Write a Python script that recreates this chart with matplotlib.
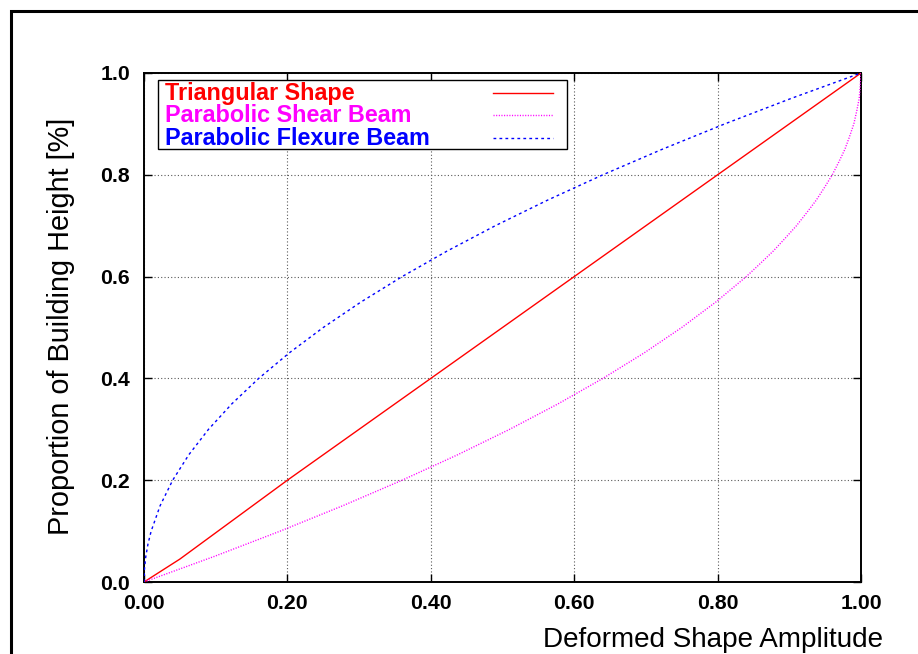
import matplotlib
matplotlib.use("Agg")
import matplotlib.pyplot as plt
from matplotlib.lines import Line2D
from matplotlib.patches import Rectangle

plt.rcParams['font.family'] = ['Liberation Sans', 'DejaVu Sans']

# ---------------- data ----------------
series_names = ["Triangular Shape", "Parabolic Shear Beam", "Parabolic Flexure Beam"]
series_colors = ["#ff0000", "#ff00ff", "#0000ff"]

tri_amp = [0.0, 0.05, 0.20, 0.40, 0.60, 0.80, 1.00]
tri_height = [0.0, 0.045, 0.20, 0.40, 0.60, 0.80, 1.00]

shear_height = [0.0, 0.05, 0.10, 0.15, 0.20, 0.25, 0.30, 0.35, 0.40, 0.45, 0.50,
                0.55, 0.60, 0.625, 0.65, 0.675, 0.70, 0.725, 0.75, 0.775, 0.80,
                0.825, 0.85, 0.875, 0.90, 0.925, 0.95, 0.975, 1.00]
shear_amp = [0.0, 0.0975, 0.19, 0.2775, 0.36, 0.4375, 0.51, 0.5775, 0.64, 0.6975, 0.75,
             0.7975, 0.84, 0.859, 0.8775, 0.894, 0.91, 0.924, 0.9375, 0.949, 0.96,
             0.969, 0.9775, 0.984, 0.99, 0.994, 0.9975, 0.999, 1.00]

flex_height = [0.0, 0.025, 0.05, 0.075, 0.10, 0.15, 0.20, 0.25, 0.30, 0.35, 0.40,
               0.45, 0.50, 0.55, 0.60, 0.65, 0.70, 0.75, 0.80, 0.85, 0.90, 0.95, 1.00]
flex_amp = [0.0, 0.0006, 0.0025, 0.0056, 0.01, 0.0225, 0.04, 0.0625, 0.09, 0.1225, 0.16,
            0.2025, 0.25, 0.3025, 0.36, 0.4225, 0.49, 0.5625, 0.64, 0.7225, 0.81, 0.9025, 1.00]

x_ticks = [0.0, 0.2, 0.4, 0.6, 0.8, 1.0]
x_tick_labels = ["0.00", "0.20", "0.40", "0.60", "0.80", "1.00"]
y_ticks = [0.0, 0.2, 0.4, 0.6, 0.8, 1.0]
y_tick_labels = ["0.0", "0.2", "0.4", "0.6", "0.8", "1.0"]

x_label = "Deformed Shape Amplitude"
y_label = "Proportion of Building Height [%]"

# ---------------- figure ----------------
W, H = 918, 654
fig = plt.figure(figsize=(W / 100, H / 100), dpi=100)
L, R, T, B = 144, 861, 73, 582
ax = fig.add_axes([L / W, 1 - B / H, (R - L) / W, (B - T) / H])

styles = [
    dict(linestyle='-', linewidth=1.0),
    dict(linestyle=(0, (0.8, 1.1)), linewidth=1.0),
    dict(linestyle=(0, (2.0, 2.3)), linewidth=1.0),
]
data = [(tri_amp, tri_height), (shear_amp, shear_height), (flex_amp, flex_height)]
for (xs, ys), c, st in zip(data, series_colors, styles):
    ax.plot(xs, ys, color=c, zorder=3, **st)

ax.set_xlim(0, 1)
ax.set_ylim(0, 1)
ax.set_xticks(x_ticks)
ax.set_xticklabels(x_tick_labels)
ax.set_yticks(y_ticks)
ax.set_yticklabels(y_tick_labels)
ax.tick_params(direction='in', length=6, width=1.0, top=True, right=True,
               labelsize=15.3)
ax.tick_params(axis='x', pad=8.5)
ax.tick_params(axis='y', pad=10)
for lab in ax.get_xticklabels() + ax.get_yticklabels():
    lab.set_fontweight('bold')
for sp in ax.spines.values():
    sp.set_linewidth(1.4)
ax.grid(True, color='0.35', linestyle=(0, (1, 2)), linewidth=0.8, zorder=1)
ax.set_axisbelow(True)

# legend (manual, gnuplot-style: text left, sample on the right)
ax.add_patch(Rectangle((0.020, 0.850), 0.5695, 0.136, transform=ax.transAxes,
                       facecolor='white', edgecolor='black', linewidth=1.0,
                       zorder=4))
row_y = [0.960, 0.917, 0.872]
for name, c, st, yy in zip(series_names, series_colors, styles, row_y):
    ax.text(0.0293, yy, name, transform=ax.transAxes, color=c, fontsize=16.8,
            fontweight='bold', ha='left', va='center', zorder=5)
    ax.add_line(Line2D([0.487, 0.570], [yy, yy], transform=ax.transAxes,
                       color=c, zorder=5, **st))

# axis labels
fig.text(883 / W, 1 - 647 / H, x_label, ha='right', va='baseline', fontsize=20.1)
fig.text(61 / W, 1 - 326 / H, y_label, ha='center', va='center', rotation=90,
         fontsize=20.8)

# outer frame (left and top edges)
fig.add_artist(Line2D([10.5 / W, 10.5 / W, 1], [0, 1 - 10.5 / H, 1 - 10.5 / H],
                      color='black', linewidth=2.2, solid_joinstyle='miter',
                      solid_capstyle='butt', transform=fig.transFigure))

fig.savefig("out.png", dpi=100)
